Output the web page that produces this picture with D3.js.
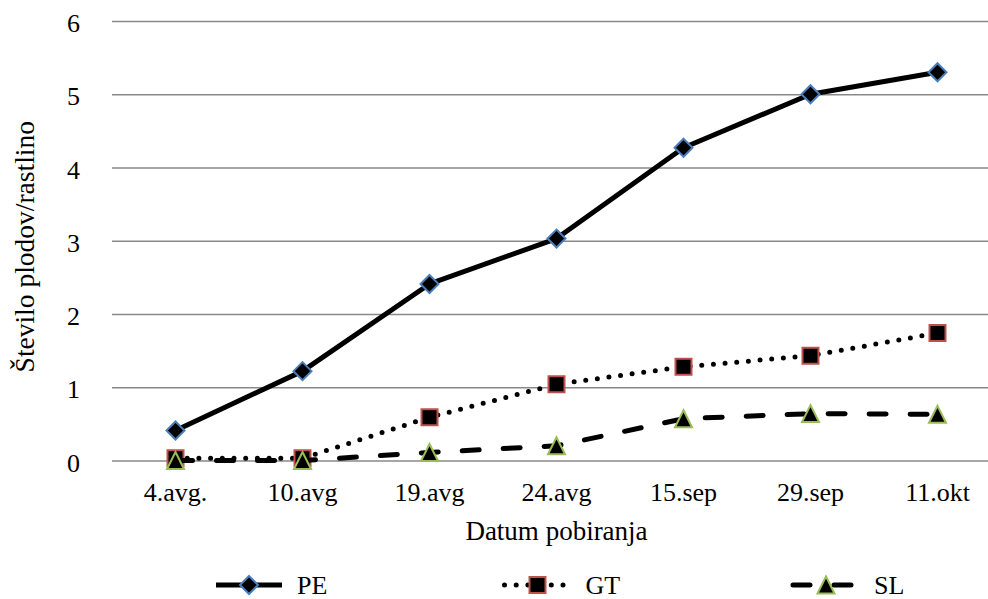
<!DOCTYPE html>
<html>
<head>
<meta charset="utf-8">
<script src="https://cdn.jsdelivr.net/npm/d3@7"></script>
<style>
  html, body { margin: 0; padding: 0; background: #fff; }
  svg { display: block; }
</style>
</head>
<body>
<svg id="chart" width="988" height="599"></svg>
<script>
// Harvest dates and fruit counts per plant for three treatments
const dates = ["4.avg.", "10.avg", "19.avg", "24.avg", "15.sep", "29.sep", "11.okt"];
const seriesNames = ["PE", "GT", "SL"];
const valuesPE = [0.41, 1.22, 2.41, 3.03, 4.27, 5.0, 5.30];
const valuesGT = [0.03, 0.03, 0.59, 1.04, 1.28, 1.43, 1.74];
const valuesSL = [0, 0, 0.11, 0.2, 0.57, 0.64, 0.63];
const yTicks = [0, 1, 2, 3, 4, 5, 6];
const yTitle = "Število plodov/rastlino";
const xTitle = "Datum pobiranja";

const series = [
  { name: seriesNames[0], values: valuesPE, marker: "diamond", edge: "#4a7ebb", dash: null, cap: "butt" },
  { name: seriesNames[1], values: valuesGT, marker: "square", edge: "#c0504d", dash: "0 11.7", cap: "round" },
  { name: seriesNames[2], values: valuesSL, marker: "triangle", edge: "#9bbb59", dash: "17 24", cap: "round" }
];

const FONT = '"Liberation Serif", "Times New Roman", Tinos, serif';
const serifText = (sel, size = 26) =>
  sel.style("font-family", FONT).style("font-size", size + "px").style("fill", "#000");

const svg = d3.select("#chart");
const plot = { left: 112, right: 1001, top: 21, bottom: 460.5 };

const x = d3.scaleBand().domain(dates).range([plot.left, plot.right]);
const cx = d => x(d) + x.bandwidth() / 2;
const y = d3.scaleLinear().domain([0, 6]).range([plot.bottom, plot.top]);

// horizontal gridlines
const grid = svg.append("g")
  .attr("transform", `translate(${plot.left},0)`)
  .call(d3.axisLeft(y).tickValues(yTicks).tickSize(-(plot.right - plot.left)).tickFormat(""));
grid.select(".domain").remove();
grid.selectAll(".tick line").attr("stroke", "#898989").attr("stroke-width", 1.4);

// y tick labels
const yAxis = svg.append("g")
  .attr("transform", `translate(80,0)`)
  .call(d3.axisLeft(y).tickValues(yTicks).tickSize(0).tickPadding(0).tickFormat(d3.format("d")));
yAxis.select(".domain").remove();
yAxis.selectAll(".tick text")
  .call(serifText)
  .attr("dy", null).attr("y", 10.5).attr("text-anchor", "end");

// x tick labels
const xAxis = svg.append("g")
  .attr("transform", `translate(0,${plot.bottom})`)
  .call(d3.axisBottom(x).tickSize(0).tickPadding(0));
xAxis.select(".domain").remove();
xAxis.selectAll(".tick text")
  .call(serifText)
  .attr("dy", null).attr("y", 40.5);

// axis titles
svg.append("text")
  .attr("x", (plot.left + plot.right) / 2).attr("y", 540)
  .attr("text-anchor", "middle")
  .call(serifText, 27)
  .text(xTitle);
svg.append("text")
  .attr("transform", `translate(34,${(plot.top + plot.bottom) / 2 + 6}) rotate(-90)`)
  .attr("text-anchor", "middle")
  .call(serifText, 27.5)
  .text(yTitle);

// marker shapes, centred on their bounding box
function markerPath(type) {
  if (type === "diamond") { const r = 9; return `M0,${-r}L${r},0L0,${r}L${-r},0Z`; }
  if (type === "square") { const r = 8; return `M${-r},${-r}H${r}V${r}H${-r}Z`; }
  const w = 8.5, h = 8.5;
  return `M0,${-h}L${w},${h}L${-w},${h}Z`;
}

const line = d3.line().x((v, i) => cx(dates[i])).y(v => y(v));

series.forEach(s => {
  const g = svg.append("g");
  g.append("path")
    .attr("d", line(s.values))
    .attr("fill", "none").attr("stroke", "#000").attr("stroke-width", 5)
    .attr("stroke-linecap", s.cap).attr("stroke-linejoin", "round")
    .attr("stroke-dasharray", s.dash);
  g.selectAll("path.mk").data(s.values).join("path")
    .attr("class", "mk")
    .attr("d", markerPath(s.marker))
    .attr("transform", (v, i) => `translate(${cx(dates[i])},${y(v)})`)
    .attr("fill", "#000").attr("stroke", s.edge).attr("stroke-width", 2);
});

// legend
const legendY = 585;
series.forEach((s, i) => {
  const mx = 249 + i * 288.5;
  const g = svg.append("g");
  g.append("line")
    .attr("x1", mx - 33).attr("x2", mx + 33).attr("y1", legendY).attr("y2", legendY)
    .attr("stroke", "#000").attr("stroke-width", 5)
    .attr("stroke-linecap", s.cap).attr("stroke-dasharray", s.dash);
  g.append("path")
    .attr("d", markerPath(s.marker))
    .attr("transform", `translate(${mx},${legendY})`)
    .attr("fill", "#000").attr("stroke", s.edge).attr("stroke-width", 2);
  g.append("text")
    .attr("x", mx + 48).attr("y", legendY + 9)
    .call(serifText)
    .text(s.name);
});
</script>
</body>
</html>
